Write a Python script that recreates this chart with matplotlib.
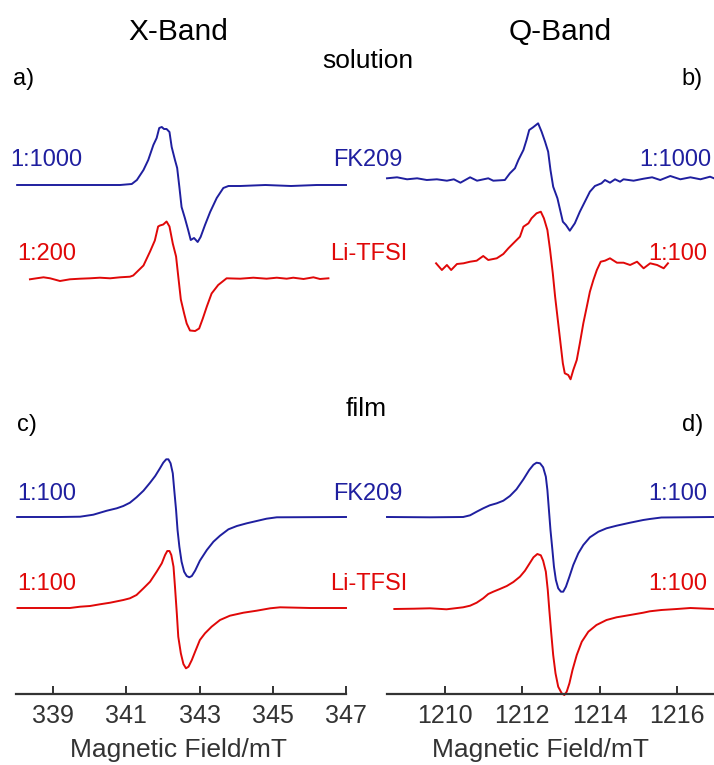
import matplotlib
matplotlib.use("Agg")
import matplotlib.pyplot as plt
import numpy as np

plt.rcParams['font.family'] = ['Liberation Sans', 'DejaVu Sans']

BLUE = '#1f1f9f'
RED = '#e00808'

# ---- X-band, solution (field in mT, intensity in a.u.) ----
xs_fk_field = [338.02, 340.83, 341.15, 341.29, 341.47, 341.60, 341.74, 341.83, 341.90, 341.97,
               342.03, 342.10, 342.18, 342.24, 342.33, 342.39, 342.45, 342.51, 342.60, 342.69,
               342.76, 342.85, 342.95, 343.03, 343.15, 343.29, 343.47, 343.65, 343.79, 344.11,
               344.80, 345.50, 346.20, 347.00]
xs_fk_int = [0, 0, 1, 5, 15, 25, 40, 47, 57, 58,
             56, 56, 53, 38, 25, 17, -2, -22, -33, -45,
             -55, -53, -57, -52, -40, -27, -13, -3, -1, -1,
             0, -1, 0, 0]

xs_li_field = [338.37, 338.55, 338.74, 338.92, 339.19, 339.46, 339.74, 340.01, 340.28, 340.56,
               340.83, 341.10, 341.19, 341.33, 341.47, 341.65, 341.78, 341.87, 341.92, 342.01,
               342.10, 342.18, 342.27, 342.36, 342.42, 342.49, 342.58, 342.65, 342.74, 342.88,
               342.99, 343.09, 343.20, 343.33, 343.51, 343.74, 344.11, 344.47, 344.83, 345.11,
               345.38, 345.56, 345.84, 346.11, 346.29, 346.52]
xs_li_int = [-1.8, -0.8, 0.2, -0.8, -3.5, -1.8, -1.2, -0.8, -0.2, -0.8,
             0.2, 0.8, 2, 7, 12, 26, 37, 51, 52, 53,
             56, 51, 34, 21, 1, -22, -36, -46, -53, -53.5,
             -51, -41, -29, -16, -7.5, -0.8, -1.2, -0.2, -1.2, -0.2,
             -1.2, -0.2, -1.5, 0.2, -1.5, -0.8]

# ---- Q-band, solution ----
qs_fk_field = [1208.50, 1208.76, 1209.02, 1209.28, 1209.53, 1209.79, 1210.05, 1210.23, 1210.40, 1210.65,
               1210.83, 1211.12, 1211.25, 1211.55, 1211.68, 1211.81, 1211.90, 1212.03, 1212.11, 1212.18,
               1212.28, 1212.41, 1212.50, 1212.59, 1212.67, 1212.73, 1212.80, 1212.91, 1212.98, 1213.05,
               1213.13, 1213.23, 1213.36, 1213.49, 1213.62, 1213.75, 1213.88, 1214.05, 1214.14, 1214.27,
               1214.40, 1214.53, 1214.62, 1214.88, 1215.14, 1215.36, 1215.57, 1215.83, 1216.09, 1216.35,
               1216.61, 1216.86, 1216.96]
qs_fk_int = [1.2, 2.2, 0.2, 1.2, -0.5, 0.2, -1.2, 0.2, -3.2, 2.2,
             -1.2, 1.2, -1.2, -0.5, 6.2, 11.2, 19.5, 29.5, 39.5, 49.5,
             52.2, 56.2, 47.8, 37.8, 27.8, 9.5, -7.2, -18.8, -30.5, -42.2,
             -45.5, -51.2, -43.8, -32.2, -22.2, -12.2, -6.5, -3.8, -0.5, -3.2,
             0.2, -2.2, 0.2, -1.2, 0.8, 2.2, -0.5, 3.5, 0.2, 2.2,
             0.2, 2.8, 1.2]

qs_li_field = [1209.77, 1209.92, 1210.05, 1210.16, 1210.31, 1210.48, 1210.65, 1210.82, 1210.99, 1211.12,
               1211.34, 1211.51, 1211.64, 1211.81, 1211.94, 1212.03, 1212.16, 1212.24, 1212.37, 1212.48,
               1212.56, 1212.65, 1212.72, 1212.79, 1212.85, 1212.91, 1212.98, 1213.05, 1213.10, 1213.19,
               1213.25, 1213.32, 1213.41, 1213.49, 1213.58, 1213.67, 1213.75, 1213.84, 1213.93, 1214.03,
               1214.14, 1214.27, 1214.45, 1214.62, 1214.79, 1214.97, 1215.14, 1215.31, 1215.49, 1215.66,
               1215.77]
qs_li_int = [-0.3, -7, -2, -7, -1, -0.3, 1.3, 2.3, 7, 3,
             4.7, 9, 14.7, 21.3, 26.3, 36.3, 39.7, 44.7, 49.7, 51.3,
             44.7, 33, 13, -10.3, -33.7, -53.7, -77, -100.3, -110.3, -112,
             -116.3, -107, -97, -80.3, -60.3, -43.7, -28.7, -17, -7, 1.3,
             2.3, 4.7, 0.3, 0.3, -2, 1.3, -5.3, -0.3, -2, -5.3,
             -0.3]

# ---- X-band, film ----
xf_fk_field = [338.02, 339.19, 339.74, 340.10, 340.47, 340.74, 340.92, 341.10, 341.28, 341.47,
               341.65, 341.79, 341.92, 342.01, 342.09, 342.15, 342.21, 342.27, 342.31, 342.36,
               342.40, 342.45, 342.51, 342.58, 342.65, 342.72, 342.79, 342.88, 343.01, 343.20,
               343.38, 343.56, 343.79, 344.02, 344.29, 344.56, 344.83, 345.11, 347.00]
xf_fk_int = [0, 0, 0.3, 2.3, 6.3, 8.7, 11, 14.3, 19.7, 26.3,
             34.3, 41, 48.7, 54.3, 57.7, 57.7, 53.7, 43.7, 27, 7,
             -13, -29.7, -44.7, -54.7, -59, -60.3, -59, -53.7, -43.7, -33,
             -24.7, -18.7, -12.3, -9, -6.3, -4, -1.7, -0.3, 0]

xf_li_field = [338.03, 338.92, 339.46, 339.74, 340.01, 340.28, 340.56, 340.92, 341.10, 341.28,
               341.47, 341.65, 341.83, 341.97, 342.06, 342.12, 342.18, 342.23, 342.29, 342.33,
               342.38, 342.42, 342.49, 342.56, 342.63, 342.70, 342.79, 342.88, 343.01, 343.15,
               343.33, 343.56, 343.83, 344.20, 344.56, 344.93, 345.20, 346.02, 347.00]
xf_li_int = [0, 0, 0, 1.3, 2, 3.7, 5.3, 8, 9.7, 13,
             19.7, 26.3, 36.3, 44.7, 53, 57, 57, 53, 41.3, 21.3,
             -5.3, -28.7, -45.3, -56, -60.3, -58.7, -52, -43.7, -32, -25.3,
             -18.7, -12, -7.7, -4.7, -2.7, -0.3, 0.7, 0, 0]

# ---- Q-band, film ----
qf_fk_field = [1208.50, 1209.61, 1210.47, 1210.65, 1210.82, 1210.99, 1211.16, 1211.34, 1211.51, 1211.68,
               1211.85, 1212.03, 1212.18, 1212.29, 1212.37, 1212.46, 1212.54, 1212.61, 1212.65, 1212.69,
               1212.73, 1212.78, 1212.82, 1212.87, 1212.93, 1213.00, 1213.06, 1213.13, 1213.22, 1213.32,
               1213.45, 1213.58, 1213.75, 1213.97, 1214.18, 1214.44, 1214.79, 1215.13, 1215.30, 1215.60,
               1216.96]
qf_fk_int = [0, -0.3, 0, 1.7, 5.3, 8.7, 11.7, 13.7, 16.3, 21,
             27.7, 37.7, 47, 52.3, 54.3, 53.7, 49.7, 40.3, 27, 7,
             -13, -33, -49.7, -63, -71.3, -74.7, -74.7, -69.7, -59.7, -48,
             -36.3, -28, -20.3, -14.7, -11.3, -8.7, -5.7, -3, -2, -0.5,
             0]

qf_li_field = [1208.69, 1209.20, 1209.61, 1210.04, 1210.47, 1210.65, 1210.82, 1210.99, 1211.12, 1211.25,
               1211.42, 1211.60, 1211.77, 1211.94, 1212.07, 1212.18, 1212.29, 1212.39, 1212.48, 1212.54,
               1212.61, 1212.66, 1212.70, 1212.75, 1212.80, 1212.86, 1212.93, 1213.02, 1213.09, 1213.15,
               1213.22, 1213.30, 1213.41, 1213.54, 1213.71, 1213.92, 1214.18, 1214.44, 1214.79, 1215.13,
               1215.30, 1215.60, 1216.00, 1216.35, 1216.96]
qf_li_int = [0, 0.3, 0.7, -0.3, 1.7, 3.3, 6.3, 10.7, 15, 17.3,
             20, 23, 27, 32.3, 38.3, 45, 51.7, 55, 53.7, 48.3,
             37.3, 19, -1, -24.3, -46, -64.3, -77.7, -84.3, -86, -82.7,
             -74.3, -61, -46, -32.7, -22.7, -16, -11, -8.3, -6, -3.7,
             -2.3, -1, 0, 1, 0]

# vertical stacking of the traces
off_sol_fk, off_sol_li = 509, 416.5
off_sol_fk_q, off_sol_li_q = 514.5, 431
off_film_fk, off_film_li = 177, 86

W, H = 714, 765
fig = plt.figure(figsize=(W / 100, H / 100), dpi=100)

ax_x = fig.add_axes([16.4 / W, 71 / H, 329.6 / W, 614 / H])
ax_q = fig.add_axes([387 / W, 71 / H, 328.5 / W, 614 / H])


def draw(ax, field, inten, off, color):
    ax.plot(field, np.array(inten) + off, color=color, lw=1.4, clip_on=False,
            solid_joinstyle='round')


draw(ax_x, xs_fk_field, xs_fk_int, off_sol_fk, BLUE)
draw(ax_x, xs_li_field, xs_li_int, off_sol_li, RED)
draw(ax_x, xf_fk_field, xf_fk_int, off_film_fk, BLUE)
draw(ax_x, xf_li_field, xf_li_int, off_film_li, RED)

draw(ax_q, qs_fk_field, qs_fk_int, off_sol_fk_q, BLUE)
draw(ax_q, qs_li_field, qs_li_int, off_sol_li_q, RED)
draw(ax_q, qf_fk_field, qf_fk_int, off_film_fk, BLUE)
draw(ax_q, qf_li_field, qf_li_int, off_film_li - 1, RED)

ax_x.set_xlim(338, 347)
ax_x.set_xticks([339, 341, 343, 345, 347])
ax_q.set_xlim(1208.5, 1217)
ax_q.set_xticks([1210, 1212, 1214, 1216])

for ax in (ax_x, ax_q):
    ax.set_ylim(0, 614)
    ax.set_yticks([])
    for s in ('top', 'left', 'right'):
        ax.spines[s].set_visible(False)
    ax.spines['bottom'].set_color('#333333')
    ax.spines['bottom'].set_linewidth(1.6)
    ax.tick_params(axis='x', direction='in', length=6, width=1.4, color='#333333',
                   labelsize=18, labelcolor='#333333', pad=7)
    ax.patch.set_alpha(0)


def ftext(x, y, s, **kw):
    fig.text(x / W, 1 - y / H, s, va='baseline', **kw)


ftext(178, 40, 'X-Band', fontsize=21.5, ha='center')
ftext(560, 40, 'Q-Band', fontsize=21.5, ha='center')
ftext(368, 68, 'solution', fontsize=19, ha='center')
ftext(366, 416, 'film', fontsize=19, ha='center')
ftext(13, 85, 'a)', fontsize=17, ha='left')
ftext(703, 85, 'b)', fontsize=17, ha='right')
ftext(17, 431, 'c)', fontsize=17, ha='left')
ftext(703, 431, 'd)', fontsize=17, ha='right')

ftext(10, 166, '1:1000', fontsize=17, color=BLUE, ha='left')
ftext(333, 166, 'FK209', fontsize=17, color=BLUE, ha='left')
ftext(711, 166, '1:1000', fontsize=17, color=BLUE, ha='right')
ftext(17, 260, '1:200', fontsize=17, color=RED, ha='left')
ftext(330, 260, 'Li-TFSI', fontsize=17, color=RED, ha='left')
ftext(707, 260, '1:100', fontsize=17, color=RED, ha='right')

ftext(17, 500, '1:100', fontsize=17, color=BLUE, ha='left')
ftext(333, 500, 'FK209', fontsize=17, color=BLUE, ha='left')
ftext(707, 500, '1:100', fontsize=17, color=BLUE, ha='right')
ftext(17, 590, '1:100', fontsize=17, color=RED, ha='left')
ftext(330, 590, 'Li-TFSI', fontsize=17, color=RED, ha='left')
ftext(707, 590, '1:100', fontsize=17, color=RED, ha='right')

ftext(179, 757, 'Magnetic Field/mT', fontsize=19, color='#333333', ha='center')
ftext(541, 757, 'Magnetic Field/mT', fontsize=19, color='#333333', ha='center')

fig.savefig('out.png', dpi=100)
